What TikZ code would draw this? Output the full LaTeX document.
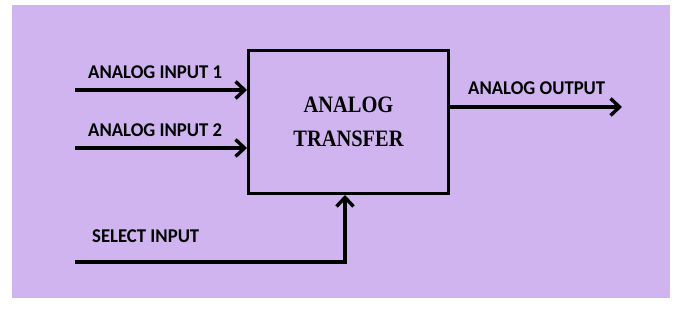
\documentclass[tikz,border=0pt]{standalone}
\usepackage{fontspec}
\newfontfamily\lblfont{Carlito}[FakeStretch=0.96]
\newfontfamily\boxfont{Liberation Serif}[FakeStretch=0.87]
\usetikzlibrary{arrows.meta, positioning}
\definecolor{lilac}{RGB}{207,180,240}

\begin{document}
\begin{tikzpicture}[x=1pt, y=-1pt,
    blk/.style={draw, line width=3pt, minimum width=200pt, minimum height=143pt,
                align=center, font=\boxfont\bfseries\fontsize{23.5}{34}\selectfont},
    arr/.style={line width=3.4pt, -{Straight Barb[length=9pt, width=17pt]}},
    lbl/.style={font=\lblfont\bfseries\fontsize{19.5}{22}\selectfont, inner sep=0pt},
]
\useasboundingbox (0,0) rectangle (678,324);
\fill[lilac] (12,5) rectangle (670,298);

\node[blk] (xfer) at (348.5,122) {ANALOG\\TRANSFER};

\coordinate (in1) at (75,90);
\coordinate (in2) at (75,148);
\coordinate (sel) at (75,262);
\coordinate (out) at (622,107);
\coordinate (outstart) at (xfer.east |- out);

\node[lbl, above right=11pt and 13pt of in1] (l1) {ANALOG INPUT 1};
\node[lbl, above right=11pt and 13pt of in2] (l2) {ANALOG INPUT 2};
\node[lbl, above right=19pt and 17pt of sel] (l3) {SELECT INPUT};
\node[lbl, above right=12pt and 18pt of outstart] (l4) {ANALOG OUTPUT};

\foreach \c in {in1,in2}{
  \draw[arr] (\c) -- (\c -| xfer.west);
}
\draw[arr] (outstart) -- (out);
\draw[arr] (sel) -| ([xshift=-3.5pt]xfer.south);

\end{tikzpicture}
\end{document}
